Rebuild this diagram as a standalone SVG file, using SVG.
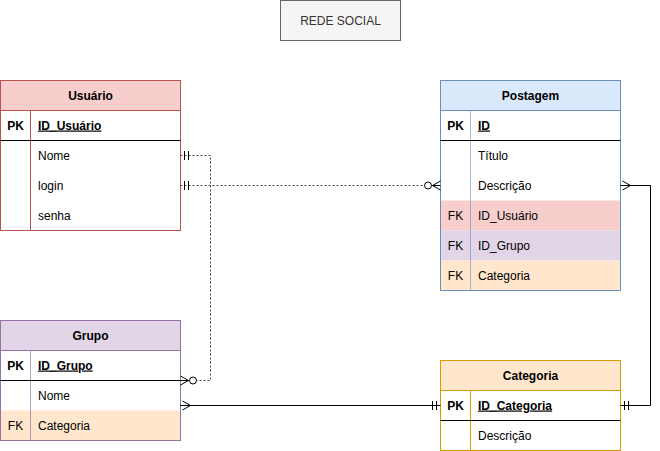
<svg xmlns="http://www.w3.org/2000/svg" width="660" height="451" viewBox="0 0 660 451">
<style>
text{font-family:"Liberation Sans",Arial,sans-serif;font-size:12px;fill:#000}
.h{font-weight:bold;text-anchor:middle}
.c{text-anchor:middle}
.b{font-weight:bold}
.u{text-decoration:underline;font-weight:bold}
.sep{stroke:#000;stroke-width:1}
.edge{fill:none;stroke:#000;stroke-width:1}
.dash{stroke:#444;stroke-dasharray:2 2}
.mk{fill:none;stroke:#000;stroke-width:1}
</style>
<defs>
<marker id="one" markerUnits="userSpaceOnUse" orient="auto-start-reverse" viewBox="-20 -8 22 16" markerWidth="22" markerHeight="16" refX="0" refY="0" overflow="visible">
<path class="mk" d="M-4,-4.5V4.5M-8,-4.5V4.5"/>
</marker>
<marker id="zmany" markerUnits="userSpaceOnUse" orient="auto-start-reverse" viewBox="-20 -8 22 16" markerWidth="22" markerHeight="16" refX="0" refY="0" overflow="visible">
<path class="mk" d="M0,-4.5L-8,0L0,4.5M-9,0H0"/>
<circle cx="-12.5" cy="0" r="3.5" fill="#fff" stroke="#000"/>
</marker>
<marker id="many" markerUnits="userSpaceOnUse" orient="auto-start-reverse" viewBox="-20 -8 22 16" markerWidth="22" markerHeight="16" refX="0" refY="0" overflow="visible">
<path class="mk" d="M-2,-4.5L-10,0L-2,4.5M-10,0H0"/>
</marker>
</defs>

<g id="title">
<rect x="280.5" y="0.5" width="120" height="40" fill="#f5f5f5" stroke="#666666"/>
<text x="340.5" y="24.5" class="c" style="fill:#333333">REDE SOCIAL</text>
</g>

<g id="usuario">
<rect x="0.5" y="80.5" width="180" height="150" fill="#ffffff" stroke="#b85450"/>
<rect x="0.5" y="80.5" width="180" height="30" fill="#f8cecc" stroke="#b85450"/>
<line x1="30.5" y1="110.5" x2="30.5" y2="230.5" stroke="#b85450"/>
<line class="sep" x1="0.5" y1="140.5" x2="180.5" y2="140.5"/>
<text x="90.5" y="99.5" class="h">Usuário</text>
<text x="15.5" y="129.5" class="c b">PK</text>
<text x="38" y="129.5" class="u">ID_Usuário</text>
<text x="38" y="159.5">Nome</text>
<text x="38" y="189.5">login</text>
<text x="38" y="219.5">senha</text>
</g>

<g id="postagem">
<rect x="440.5" y="80.5" width="180" height="210" fill="#ffffff" stroke="#6c8ebf"/>
<rect x="440.5" y="80.5" width="180" height="30" fill="#dae8fc" stroke="#6c8ebf"/>
<rect x="441" y="200.5" width="179" height="30" fill="#f8cecc"/>
<rect x="441" y="230.5" width="179" height="30" fill="#e1d5e7"/>
<rect x="441" y="260.5" width="179" height="29.5" fill="#ffe6cc"/>
<line x1="470.5" y1="110.5" x2="470.5" y2="290.5" stroke="#6c8ebf" stroke-opacity="0.6"/>
<line class="sep" x1="440.5" y1="140.5" x2="620.5" y2="140.5"/>
<text x="530.5" y="99.5" class="h">Postagem</text>
<text x="455.5" y="129.5" class="c b">PK</text>
<text x="478" y="129.5" class="u">ID</text>
<text x="478" y="159.5">Título</text>
<text x="478" y="189.5">Descrição</text>
<text x="455.5" y="219.5" class="c">FK</text>
<text x="478" y="219.5">ID_Usuário</text>
<text x="455.5" y="249.5" class="c">FK</text>
<text x="478" y="249.5">ID_Grupo</text>
<text x="455.5" y="279.5" class="c">FK</text>
<text x="478" y="279.5">Categoria</text>
</g>

<g id="grupo">
<rect x="0.5" y="320.5" width="180" height="120" fill="#ffffff" stroke="#9673a6"/>
<rect x="0.5" y="320.5" width="180" height="30" fill="#e1d5e7" stroke="#9673a6"/>
<rect x="1" y="410.5" width="179" height="29.5" fill="#ffe6cc"/>
<line x1="30.5" y1="350.5" x2="30.5" y2="440.5" stroke="#9673a6" stroke-opacity="0.7"/>
<line class="sep" x1="0.5" y1="380.5" x2="180.5" y2="380.5"/>
<text x="90.5" y="339.5" class="h">Grupo</text>
<text x="15.5" y="369.5" class="c b">PK</text>
<text x="38" y="369.5" class="u">ID_Grupo</text>
<text x="38" y="399.5">Nome</text>
<text x="15.5" y="429.5" class="c">FK</text>
<text x="38" y="429.5">Categoria</text>
</g>

<g id="categoria">
<rect x="440.5" y="360.5" width="180" height="90" fill="#ffffff" stroke="#d79b00"/>
<rect x="440.5" y="360.5" width="180" height="30" fill="#ffe6cc" stroke="#d79b00"/>
<line x1="470.5" y1="390.5" x2="470.5" y2="450.5" stroke="#d79b00"/>
<line class="sep" x1="440.5" y1="420.5" x2="620.5" y2="420.5"/>
<text x="530.5" y="379.5" class="h">Categoria</text>
<text x="455.5" y="409.5" class="c b">PK</text>
<text x="478" y="409.5" class="u">ID_Categoria</text>
<text x="478" y="439.5">Descrição</text>
</g>

<g id="connectors">
<path class="edge dash" d="M180.5,155.5H210.5V380.5H180.5" marker-start="url(#one)" marker-end="url(#zmany)"/>
<path class="edge dash" d="M180.5,185.5H440.5" marker-start="url(#one)" marker-end="url(#zmany)"/>
<path class="edge" d="M180.5,405.5H440.5" marker-start="url(#many)" marker-end="url(#one)"/>
<path class="edge" d="M620.5,185.5H650.5V405.5H620.5" marker-start="url(#many)" marker-end="url(#one)"/>
</g>
</svg>
